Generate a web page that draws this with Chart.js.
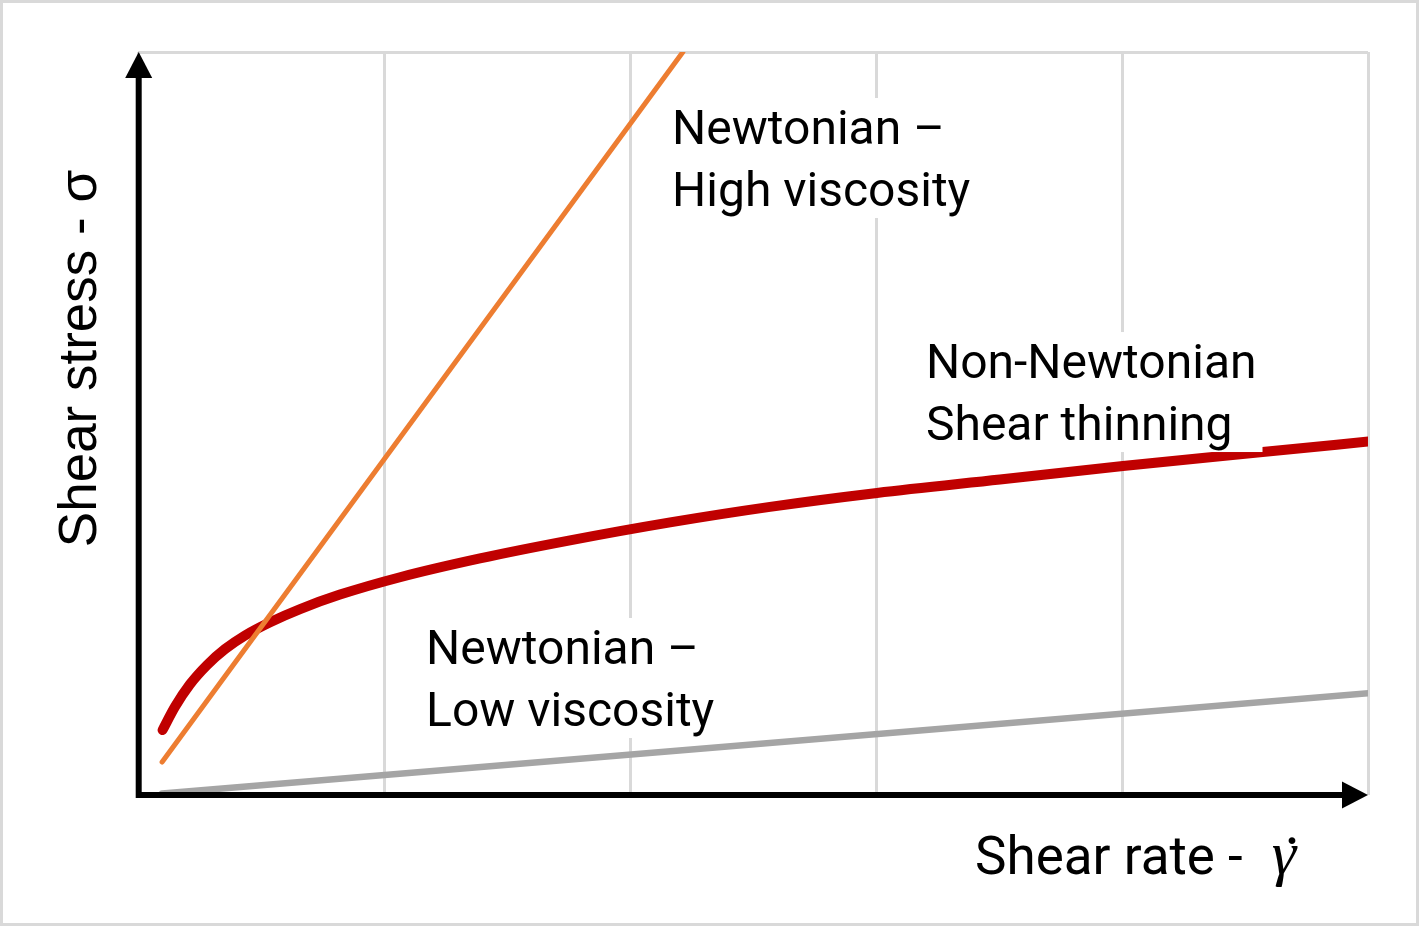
<!DOCTYPE html>
<html><head><meta charset="utf-8">
<script src="https://cdn.jsdelivr.net/npm/chart.js@4.4.1/dist/chart.umd.min.js"></script>
<style>html,body{margin:0;padding:0;background:#fff}canvas{display:block}</style>
</head><body>
<canvas id="c" width="1419" height="926"></canvas>
<script>
// ---- data ----
const xTickValues = [0, 1, 2, 3, 4, 5];
const yTickValues = [10];
const highViscosity = [{x: 0.098, y: 0.444}, {x: 2.215, y: 10.0}];
const lowViscosity  = [{x: 0.098, y: 0.020}, {x: 5.016, y: 1.373}];
const shearThinning = [
  {x: 0.100, y: 0.875}, {x: 0.150, y: 1.186}, {x: 0.211, y: 1.489}, {x: 0.281, y: 1.751},
  {x: 0.354, y: 1.965}, {x: 0.435, y: 2.148}, {x: 0.537, y: 2.326}, {x: 0.659, y: 2.503},
  {x: 0.821, y: 2.697}, {x: 1.065, y: 2.931}, {x: 1.390, y: 3.184}, {x: 1.756, y: 3.427},
  {x: 2.163, y: 3.669}, {x: 2.569, y: 3.878}, {x: 3.004, y: 4.065}, {x: 3.504, y: 4.246},
  {x: 4.004, y: 4.428}, {x: 4.561, y: 4.612}, {x: 5.016, y: 4.763}
];
const seriesNames = ['Newtonian – High viscosity', 'Newtonian – Low viscosity', 'Non-Newtonian Shear thinning'];
const annotationTexts = [
  ['Newtonian –', 'High viscosity'],
  ['Newtonian –', 'Low viscosity'],
  ['Non-Newtonian', 'Shear thinning']
];
const annotationAnchors = [{x: 2.171, y: 8.762}, {x: 1.171, y: 1.763}, {x: 3.203, y: 5.612}];
const xTitle = 'Shear rate - ';
const xTitleSymbol = 'γ';
const xTitleSymbolDot = '˙';
const yTitle = 'Shear stress - σ';

// ---- styling ----
const GRID = '#d9d9d9';
const LABEL_FONT = '48px Roboto';
const TITLE_FONT = '53px Roboto';
const YTITLE_FONT = '53px "Liberation Sans"';

const overlay = {
  id: 'overlay',
  beforeDraw(chart) {
    const ctx = chart.ctx;
    ctx.save();
    ctx.fillStyle = '#fff';
    ctx.fillRect(0, 0, chart.width, chart.height);
    ctx.strokeStyle = GRID;
    ctx.lineWidth = 3;
    ctx.strokeRect(1.5, 1.5, chart.width - 3, chart.height - 3);
    ctx.restore();
  },
  afterDraw(chart) {
    const ctx = chart.ctx;
    const {left, right, top, bottom} = chart.chartArea;
    const xs = chart.scales.x, ys = chart.scales.y;
    ctx.save();
    // annotation labels with white boxes
    ctx.font = LABEL_FONT;
    ctx.textBaseline = 'alphabetic';
    ctx.textAlign = 'left';
    const lh = 62;
    annotationTexts.forEach((lines, i) => {
      const px = xs.getPixelForValue(annotationAnchors[i].x);
      const py = ys.getPixelForValue(annotationAnchors[i].y);
      const w = Math.max(...lines.map(l => ctx.measureText(l).width));
      ctx.fillStyle = '#fff';
      ctx.fillRect(px - 10, py - 46, w + 16, 46 + lh * (lines.length - 1) + 12);
      ctx.fillStyle = '#000';
      lines.forEach((l, j) => ctx.fillText(l, px, py + j * lh));
    });
    // axes
    ctx.fillStyle = '#000';
    ctx.strokeStyle = '#000';
    ctx.lineWidth = 6;
    ctx.lineCap = 'butt';
    ctx.beginPath();
    ctx.moveTo(left + 0.7, bottom + 3);
    ctx.lineTo(left + 0.7, top + 24);
    ctx.moveTo(left - 2.3, bottom);
    ctx.lineTo(right - 24, bottom);
    ctx.stroke();
    ctx.beginPath();
    ctx.moveTo(left + 0.7, top);
    ctx.lineTo(left + 0.7 + 13.5, top + 26);
    ctx.lineTo(left + 0.7 - 13.5, top + 26);
    ctx.closePath();
    ctx.fill();
    ctx.beginPath();
    ctx.moveTo(right, bottom);
    ctx.lineTo(right - 26, bottom - 13.5);
    ctx.lineTo(right - 26, bottom + 13.5);
    ctx.closePath();
    ctx.fill();
    // x title
    ctx.font = TITLE_FONT;
    ctx.textAlign = 'left';
    const base = bottom + 79;
    ctx.fillText(xTitle, 975, base);
    const tw = ctx.measureText(xTitle).width;
    ctx.font = 'italic 62px "Liberation Serif"';
    const gx = 975 + tw + 16;
    ctx.fillText(xTitleSymbol, gx, base);
    const gw = ctx.measureText(xTitleSymbol).width;
    ctx.font = 'italic 64px "Liberation Serif"';
    ctx.textAlign = 'center';
    ctx.fillText(xTitleSymbolDot, gx + gw * 0.66, base + 5);
    // y title
    ctx.font = YTITLE_FONT;
    ctx.translate(96, (top + bottom) / 2 - 65);
    ctx.rotate(-Math.PI / 2);
    ctx.textAlign = 'center';
    ctx.textBaseline = 'alphabetic';
    ctx.fillText(yTitle, 0, 0);
    ctx.restore();
  }
};

new Chart(document.getElementById('c'), {
  type: 'line',
  data: {
    datasets: [
      {label: seriesNames[0], data: highViscosity, borderColor: '#ED7D31', borderWidth: 5, borderCapStyle: 'round', pointRadius: 0},
      {label: seriesNames[1], data: lowViscosity, borderColor: '#A5A5A5', borderWidth: 6.5, borderCapStyle: 'round', pointRadius: 0},
      {label: seriesNames[2], data: shearThinning, borderColor: '#C00000', borderWidth: 10, borderCapStyle: 'round', borderJoinStyle: 'round', cubicInterpolationMode: 'monotone', pointRadius: 0}
    ]
  },
  options: {
    responsive: false,
    animation: false,
    events: [],
    layout: {padding: {left: 138, right: 51, top: 52, bottom: 131}},
    plugins: {legend: {display: false}, tooltip: {enabled: false}},
    scales: {
      x: {
        type: 'linear', min: 0, max: 5,
        afterBuildTicks: s => { s.ticks = xTickValues.map(v => ({value: v})); },
        afterFit: s => { s.height = 0; },
        ticks: {display: false},
        grid: {color: GRID, lineWidth: 3, drawTicks: false},
        border: {display: false}
      },
      y: {
        type: 'linear', min: 0, max: 10,
        afterBuildTicks: s => { s.ticks = yTickValues.map(v => ({value: v})); },
        afterFit: s => { s.width = 0; },
        ticks: {display: false},
        grid: {color: GRID, lineWidth: 3, drawTicks: false},
        border: {display: false}
      }
    }
  },
  plugins: [overlay]
});
</script>
</body></html>
